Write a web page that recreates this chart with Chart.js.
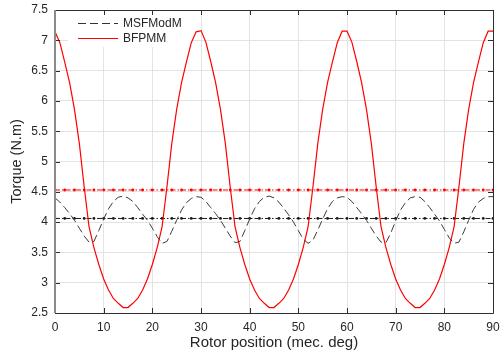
<!DOCTYPE html>
<html>
<head>
<meta charset="utf-8">
<script src="https://cdn.jsdelivr.net/npm/chart.js@4.4.1/dist/chart.umd.min.js"></script>
<style>
  html, body { margin: 0; padding: 0; background: #ffffff; }
  #wrap { width: 500px; height: 356px; }
</style>
</head>
<body>
<div id="wrap"><canvas id="torque" width="500" height="356"></canvas></div>
<script>
// Rotor position in mechanical degrees, 1 degree steps
const rotorAngle = [
  0,1,2,3,4,5,6,7,8,9,10,11,12,13,14,15,16,17,18,19,20,21,22,23,24,25,26,27,28,29,
  30,31,32,33,34,35,36,37,38,39,40,41,42,43,44,45,46,47,48,49,50,51,52,53,54,55,56,57,58,59,
  60,61,62,63,64,65,66,67,68,69,70,71,72,73,74,75,76,77,78,79,80,81,82,83,84,85,86,87,88,89,90
];

// Instantaneous torque of the MSFModM machine (N.m)
const torqueMSFModM = [
  4.40,4.33,4.24,4.14,4.03,3.90,3.77,3.67,3.68,3.86,4.05,4.22,4.34,4.41,4.43,
  4.40,4.34,4.24,4.13,4.03,3.90,3.76,3.65,3.68,3.85,4.03,4.20,4.32,4.39,4.42,
  4.41,4.34,4.24,4.14,4.03,3.90,3.77,3.66,3.68,3.86,4.05,4.22,4.34,4.41,4.43,
  4.40,4.33,4.23,4.12,4.00,3.86,3.72,3.65,3.70,3.87,4.05,4.22,4.34,4.40,4.42,
  4.41,4.34,4.24,4.14,4.03,3.90,3.77,3.67,3.66,3.82,4.02,4.20,4.32,4.40,4.42,
  4.41,4.34,4.24,4.13,4.02,3.88,3.74,3.65,3.67,3.84,4.03,4.21,4.33,4.39,4.42,
  4.42
];

// Instantaneous torque of the BFPMM machine (N.m)
const torqueBFPMM = [
  7.14,6.96,6.64,6.30,5.86,5.30,4.58,3.92,3.58,3.30,3.06,2.88,2.74,2.66,2.59,
  2.59,2.66,2.74,2.88,3.06,3.30,3.58,3.92,4.58,5.30,5.86,6.30,6.64,6.96,7.14,
  7.16,6.97,6.65,6.30,5.86,5.30,4.58,3.92,3.58,3.30,3.06,2.88,2.74,2.66,2.59,
  2.59,2.66,2.74,2.88,3.06,3.30,3.58,3.92,4.58,5.30,5.86,6.30,6.64,6.96,7.15,
  7.15,6.97,6.65,6.30,5.86,5.30,4.58,3.92,3.58,3.30,3.06,2.88,2.74,2.66,2.59,
  2.59,2.66,2.74,2.88,3.06,3.30,3.58,3.92,4.58,5.30,5.86,6.30,6.64,6.96,7.15,
  7.15
];

// Average torque of each machine (N.m)
const avgBFPMM = 4.53;
const avgMSFModM = 4.06;

// Positions of the markers on the average-torque lines (every 2 degrees)
const avgMarkerAngle = rotorAngle.filter(a => a % 2 === 0);

const xTicks = [0,10,20,30,40,50,60,70,80,90];
const yTicks = [2.5,3,3.5,4,4.5,5,5.5,6,6.5,7,7.5];

const seriesNames = ['MSFModM', 'BFPMM'];

const FONT = '"Liberation Sans", Arial, Helvetica, sans-serif';
const TEXT = '#262626';

const toPoints = (xs, ys) => xs.map((x, i) => ({ x, y: ys[i] }));
const flatLine = (xs, v) => xs.map(x => ({ x, y: v }));

// Frame with inward ticks, plus the boxed legend in the upper-left corner
const framePlugin = {
  id: 'frame',
  beforeDatasetsDraw(chart) {
    const { ctx, chartArea: a } = chart;
    // legend box (drawn over the grid)
    const bx = a.left + 13, by = a.top + 1, bw = 124, bh = 36;
    ctx.save();
    ctx.fillStyle = '#ffffff';
    ctx.fillRect(bx, by, bw, bh);
    ctx.font = '12px ' + FONT;
    ctx.textBaseline = 'middle';
    ctx.fillStyle = TEXT;
    const rows = [
      { name: seriesNames[0], color: '#333333', dash: [8, 4], y: by + 12 },
      { name: seriesNames[1], color: '#ff0000', dash: [], y: by + 27 }
    ];
    rows.forEach(r => {
      ctx.beginPath();
      ctx.setLineDash(r.dash);
      ctx.strokeStyle = r.color;
      ctx.lineWidth = 1;
      ctx.moveTo(bx + 10, r.y + 0.5);
      ctx.lineTo(bx + 50, r.y + 0.5);
      ctx.stroke();
      ctx.setLineDash([]);
      ctx.fillText(r.name, bx + 55, r.y + 1);
    });
    ctx.restore();
  },
  afterDraw(chart) {
    const { ctx, chartArea: a, scales } = chart;
    ctx.save();
    ctx.strokeStyle = '#2e2e2e';
    ctx.lineWidth = 1;
    const t = 5;
    ctx.beginPath();
    xTicks.forEach(v => {
      const px = Math.round(scales.x.getPixelForValue(v)) + 0.5;
      ctx.moveTo(px, a.bottom); ctx.lineTo(px, a.bottom - t);
      ctx.moveTo(px, a.top); ctx.lineTo(px, a.top + t);
    });
    yTicks.forEach(v => {
      const py = Math.round(scales.y.getPixelForValue(v)) + 0.5;
      ctx.moveTo(a.left, py); ctx.lineTo(a.left + t, py);
      ctx.moveTo(a.right, py); ctx.lineTo(a.right - t, py);
    });
    ctx.stroke();
    ctx.beginPath();
    ctx.rect(Math.round(a.left) + 0.5, Math.round(a.top) + 0.5,
             Math.round(a.right - a.left), Math.round(a.bottom - a.top));
    ctx.stroke();
    // left axis line is slightly heavier
    ctx.strokeStyle = '#8a8a8a';
    ctx.lineWidth = 2;
    ctx.beginPath();
    ctx.moveTo(Math.round(a.left), a.top);
    ctx.lineTo(Math.round(a.left), a.bottom);
    ctx.stroke();
    ctx.restore();
  }
};

new Chart(document.getElementById('torque'), {
  type: 'line',
  data: {
    datasets: [
      {
        label: seriesNames[0],
        data: toPoints(rotorAngle, torqueMSFModM),
        borderColor: '#3a3a3a',
        borderWidth: 1,
        borderDash: [8, 4],
        pointRadius: 0,
        tension: 0
      },
      {
        label: seriesNames[1],
        data: toPoints(rotorAngle, torqueBFPMM),
        borderColor: '#ff0000',
        borderWidth: 1.2,
        pointRadius: 0,
        tension: 0
      },
      {
        label: 'BFPMM average',
        data: flatLine(avgMarkerAngle, avgBFPMM),
        borderColor: '#ff0000',
        borderWidth: 1,
        borderDash: [5, 2, 1.5, 2],
        pointRadius: 1.4,
        pointBackgroundColor: '#ff0000',
        pointBorderWidth: 0,
        tension: 0
      },
      {
        label: 'MSFModM average',
        data: flatLine(avgMarkerAngle, avgMSFModM),
        borderColor: '#1a1a1a',
        borderWidth: 1,
        borderDash: [5, 2, 1.5, 2],
        pointRadius: 1.4,
        pointBackgroundColor: '#1a1a1a',
        pointBorderWidth: 0,
        tension: 0
      }
    ]
  },
  options: {
    responsive: false,
    animation: false,
    events: [],
    layout: { padding: { top: 10, right: 7, left: 0, bottom: 0 } },
    plugins: { legend: { display: false }, tooltip: { enabled: false } },
    scales: {
      x: {
        type: 'linear',
        min: 0, max: 90,
        afterBuildTicks(s) { s.ticks = xTicks.map(v => ({ value: v })); },
        afterFit(s) { s.height = 43; s.paddingLeft = 0; s.paddingRight = 0; },
        border: { display: false },
        grid: { color: '#e3e3e3', lineWidth: 1, drawTicks: false },
        ticks: { color: TEXT, font: { family: FONT, size: 12 }, padding: 7, maxRotation: 0,
                 callback: v => String(v) },
        title: { display: true, text: 'Rotor position (mec. deg)', color: TEXT,
                 font: { family: FONT, size: 15 }, padding: { top: 0, bottom: 4 } }
      },
      y: {
        type: 'linear',
        min: 2.5, max: 7.5,
        afterBuildTicks(s) { s.ticks = yTicks.map(v => ({ value: v })); },
        afterFit(s) { s.width = 55; s.paddingTop = 0; s.paddingBottom = 0; },
        border: { display: false },
        grid: { color: '#e3e3e3', lineWidth: 1, drawTicks: false },
        ticks: { color: TEXT, font: { family: FONT, size: 12 }, padding: 7,
                 callback: v => String(v) },
        title: { display: true, text: 'Torque (N.m)', color: TEXT,
                 font: { family: FONT, size: 14.5 }, padding: { top: 8, bottom: 0 } }
      }
    }
  },
  plugins: [framePlugin]
});
</script>
</body>
</html>
